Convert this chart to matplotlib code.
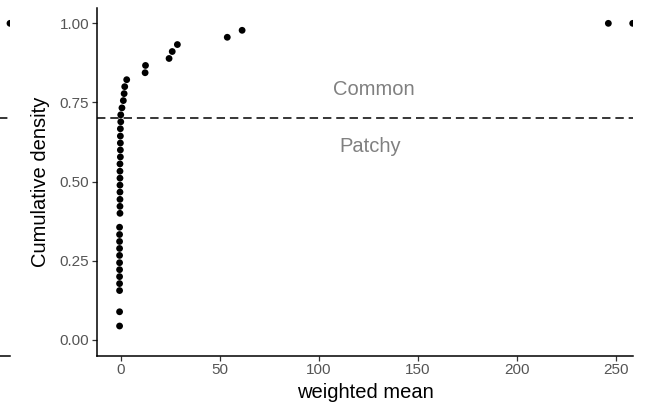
import matplotlib
matplotlib.use("Agg")
import matplotlib.pyplot as plt

plt.rcParams['font.family'] = ['Liberation Sans', 'DejaVu Sans']

# weighted mean vs cumulative density
wmean = [-0.6, -0.6,
         -0.6, -0.6, -0.6, -0.6, -0.6, -0.6, -0.6, -0.6, -0.6, -0.6,
         -0.4, -0.4, -0.4, -0.4, -0.4, -0.4, -0.4, -0.4,
         -0.2, -0.2, -0.2, -0.2, -0.2,
         0.0, 0.0,
         0.6, 1.3, 1.7, 2.0, 3.0,
         12.3, 12.5,
         24.4, 26.0, 28.6,
         53.8, 61.3,
         246.3, 258.6]
cum_dens = [0.044, 0.089,
            0.156, 0.178, 0.200, 0.222, 0.244, 0.267, 0.289, 0.311, 0.333, 0.356,
            0.400, 0.422, 0.444, 0.467, 0.489, 0.511, 0.533, 0.556,
            0.578, 0.600, 0.622, 0.644, 0.667,
            0.689, 0.711,
            0.733, 0.756, 0.778, 0.800, 0.822,
            0.844, 0.867,
            0.889, 0.911, 0.933,
            0.956, 0.978,
            1.000, 1.000]

threshold = 0.7
x_ticks = [0, 50, 100, 150, 200, 250]
y_ticks = [0.00, 0.25, 0.50, 0.75, 1.00]
y_ticklabels = ["0.00", "0.25", "0.50", "0.75", "1.00"]

# bit of the neighbouring panel that shows at the left edge
prev_x = [1.0]
prev_y = [1.0]

tick_grey = '#555555'
text_grey = '#808080'

fig = plt.figure(figsize=(6.48, 4.08), dpi=100)

# neighbouring panel (mostly off the canvas)
ax0 = fig.add_axes([-0.9, 0.128, 0.9154, 0.8536])
ax0.scatter(prev_x, prev_y, s=24, c='black', edgecolors='none')
ax0.axhline(threshold, color='black', lw=1.1, linestyle=(0, (5.5, 3.2)))
ax0.set_xlim(-0.05, 1.0)
ax0.set_ylim(-0.05, 1.05)
for side in ['top', 'right', 'left']:
    ax0.spines[side].set_visible(False)
ax0.spines['bottom'].set_linewidth(1.1)
ax0.set_xticks([])
ax0.set_yticks([])
ax0.patch.set_visible(False)

# main panel
ax = fig.add_axes([0.1497, 0.128, 0.8279, 0.8536])
ax.scatter(wmean, cum_dens, s=24, c='black', edgecolors='none', zorder=3)
ax.axhline(threshold, color='black', lw=1.1, linestyle=(0, (5.5, 3.2)))

ax.text(128, 0.79, "Common", color=text_grey, fontsize=14.5,
        ha='center', va='center')
ax.text(126, 0.61, "Patchy", color=text_grey, fontsize=14.5,
        ha='center', va='center')

ax.set_xlim(-12, 259)
ax.set_ylim(-0.05, 1.05)
ax.set_xticks(x_ticks)
ax.set_yticks(y_ticks)
ax.set_yticklabels(y_ticklabels)

ax.spines['top'].set_visible(False)
ax.spines['right'].set_visible(False)
ax.spines['left'].set_linewidth(1.1)
ax.spines['bottom'].set_linewidth(1.1)
ax.tick_params(axis='both', length=3.5, width=0.9, color='#333333',
               labelcolor=tick_grey, labelsize=11, pad=2)

ax.set_xlabel("weighted mean", fontsize=14.5, labelpad=4)
ax.set_ylabel("Cumulative density", fontsize=14.5, labelpad=7)

fig.savefig("out.png", dpi=100)
